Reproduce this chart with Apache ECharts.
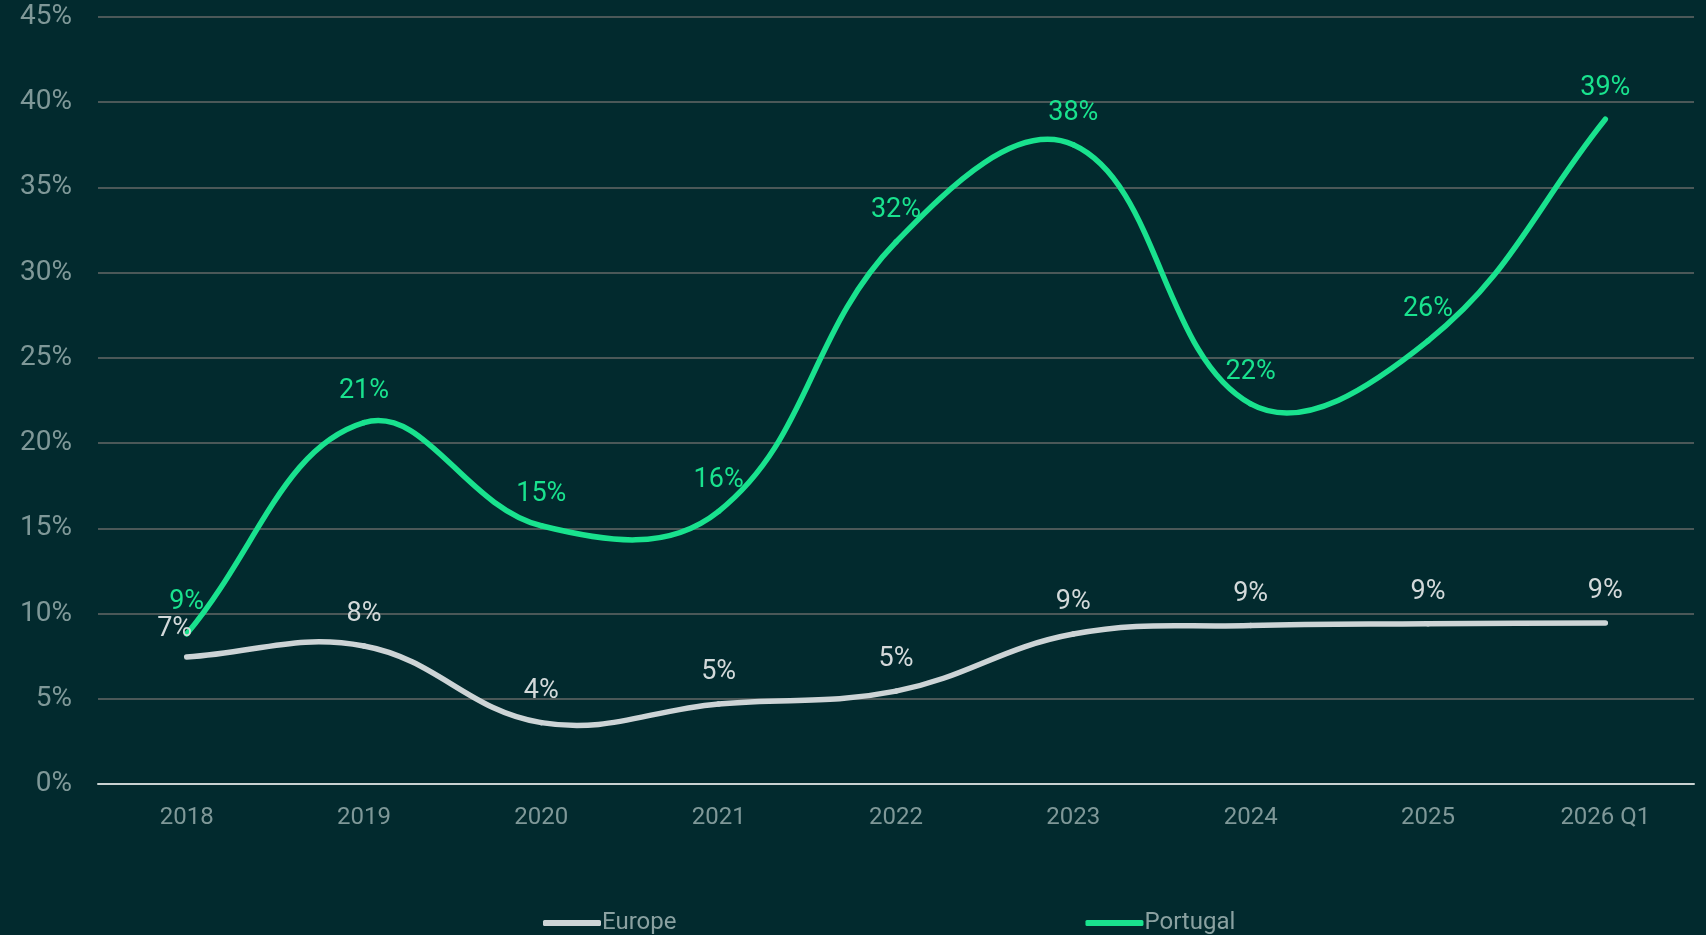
<!DOCTYPE html>
<html>
<head>
<meta charset="utf-8">
<title>Europe vs Portugal</title>
<script src="https://cdn.jsdelivr.net/npm/echarts@6/dist/echarts.min.js"></script>
<style>
  html, body { margin: 0; padding: 0; background: #022a2e; }
  #chart { width: 1706px; height: 935px; }
</style>
</head>
<body>
<div id="chart"></div>
<script>
  var years = ['2018', '2019', '2020', '2021', '2022', '2023', '2024', '2025', '2026 Q1'];
  var europe = [7.45, 8.1, 3.6, 4.7, 5.45, 8.8, 9.3, 9.4, 9.45];
  var portugal = [8.8, 21.2, 15.15, 16.0, 31.8, 37.5, 22.3, 26.0, 39.0];

  var EU_COLOR = '#cdd4d6';
  var PT_COLOR = '#19e28e';
  var TENSION = 0.4;

  var chart = echarts.init(document.getElementById('chart'));

  // rounded labels like in the source (9%, 38%...)
  function pct(p) {
    return Math.round(p.value) + '%';
  }

  // cardinal spline through the points (the source overshoots between points,
  // echarts' own smoothing flattens every local extreme)
  function splineRender(values, color) {
    return function (params, api) {
      if (params.dataIndex !== 0) return;
      var pts = values.map(function (v, i) { return api.coord([i, v]); });
      var cps = pts.map(function (cur, i) {
        var prev = pts[i - 1] || cur;
        var next = pts[i + 1] || cur;
        var d01 = Math.hypot(cur[0] - prev[0], cur[1] - prev[1]);
        var d12 = Math.hypot(next[0] - cur[0], next[1] - cur[1]);
        var s01 = d01 / (d01 + d12 || 1);
        var s12 = d12 / (d01 + d12 || 1);
        var fa = TENSION * s01, fb = TENSION * s12;
        return {
          prev: [cur[0] - fa * (next[0] - prev[0]), cur[1] - fa * (next[1] - prev[1])],
          next: [cur[0] + fb * (next[0] - prev[0]), cur[1] + fb * (next[1] - prev[1])]
        };
      });
      var children = [];
      for (var i = 0; i < pts.length - 1; i++) {
        children.push({
          type: 'bezierCurve',
          shape: {
            x1: pts[i][0], y1: pts[i][1],
            x2: pts[i + 1][0], y2: pts[i + 1][1],
            cpx1: cps[i].next[0], cpy1: cps[i].next[1],
            cpx2: cps[i + 1].prev[0], cpy2: cps[i + 1].prev[1]
          },
          style: { fill: null, stroke: color, lineWidth: 5.5, lineCap: 'round' }
        });
      }
      return { type: 'group', children: children };
    };
  }

  function labelSeries(name, values, color, labelColor) {
    return {
      name: name,
      type: 'line',
      data: values,
      symbol: 'circle',
      symbolSize: 0,
      showSymbol: true,
      z: 3,
      lineStyle: { opacity: 0 },
      itemStyle: { color: color },
      label: { show: true, position: 'top', distance: 18, color: labelColor, fontSize: 27, formatter: pct }
    };
  }

  var euLabels = labelSeries('Europe', europe, EU_COLOR, '#d3d9da');
  euLabels.labelLayout = function (p) {
    if (p.dataIndex === 0) return { dx: -12, dy: 4 };
  };

  var option = {
    backgroundColor: '#022a2e',
    animation: false,
    textStyle: { fontFamily: 'Roboto' },
    grid: { left: 98, right: 12, top: 17, bottom: 151 },
    legend: {
      left: 538,
      top: 906,
      itemGap: 409,
      itemWidth: 58,
      itemHeight: 6,
      icon: 'roundRect',
      textStyle: { color: '#8aa1a1', fontSize: 24, padding: [0, 0, 0, -4] },
      data: ['Europe', 'Portugal']
    },
    xAxis: {
      type: 'category',
      data: years,
      axisLine: { lineStyle: { color: '#c9d2d2', width: 2 } },
      axisTick: { show: false },
      axisLabel: { color: '#7f9898', fontSize: 24, margin: 22 }
    },
    yAxis: {
      type: 'value',
      min: 0,
      max: 45,
      interval: 5,
      axisLabel: { color: '#7f9898', fontSize: 28, margin: 26, formatter: '{value}%' },
      splitLine: { lineStyle: { color: '#4b5858', width: 2 } }
    },
    series: [
      {
        type: 'custom',
        name: 'Europe',
        data: europe,
        z: 2,
        silent: true,
        itemStyle: { color: EU_COLOR },
        renderItem: splineRender(europe, EU_COLOR)
      },
      {
        type: 'custom',
        name: 'Portugal',
        data: portugal,
        z: 2,
        silent: true,
        itemStyle: { color: PT_COLOR },
        renderItem: splineRender(portugal, PT_COLOR)
      },
      euLabels,
      labelSeries('Portugal', portugal, PT_COLOR, PT_COLOR)
    ]
  };

  chart.setOption(option);
  window.addEventListener('resize', function () {
    chart.resize();
  });
</script>
</body>
</html>
